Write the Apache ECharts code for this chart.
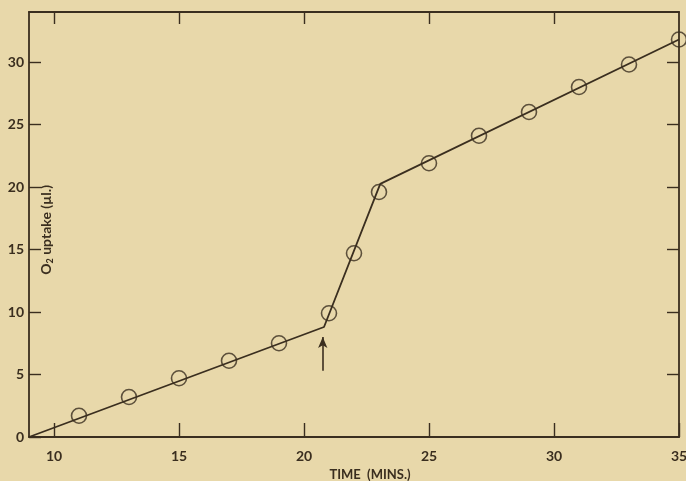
<!DOCTYPE html>
<html><head><meta charset="utf-8">
<script src="https://cdn.jsdelivr.net/npm/echarts@6/dist/echarts.min.js"></script>
<style>html,body{margin:0;padding:0;background:#e8d8aa;}#c{width:686px;height:481px;}</style>
</head><body><div id="c"></div>
<script>
var timeMins = [11,13,15,17,19,21,22,23,25,27,29,31,33,35];
var o2Uptake = [1.7,3.2,4.7,6.1,7.5,9.9,14.7,19.6,21.9,24.1,26.0,28.0,29.8,31.8];
var fitX = [9,20.8,23.05,35];
var fitY = [0,8.8,20.25,31.8];
var arrowX = 20.75, arrowFrom = 5.3, arrowTo = 8.0;
var xTicks = [10,15,20,25,30,35];
var yTicks = [0,5,10,15,20,25,30];

var ink = '#3a2e1f';
var font = 'Lato';
var chart = echarts.init(document.getElementById('c'));
var axisCommon = {
  axisLine:{show:true,onZero:false,lineStyle:{color:ink,width:1.8}},
  splitLine:{show:false}
};
chart.setOption({
  backgroundColor:'#e8d8aa',
  animation:false,
  grid:{left:29,right:7,top:12,bottom:44,containLabel:false,outerBoundsMode:'none'},
  graphic:[{type:'text',left:39,top:185,rotation:Math.PI/2,
    style:{text:'{o|O}{s|2}{o| uptake (µl.)}',
      rich:{o:{fill:ink,fontFamily:font,fontSize:14,fontWeight:'bold'},
            s:{fill:ink,fontFamily:font,fontSize:9,fontWeight:'bold',padding:[8,0,0,0]}}}}],
  xAxis:[
    Object.assign({type:'value',min:9,max:35,position:'bottom',
      axisTick:{inside:true,length:14,customValues:xTicks,lineStyle:{color:ink,width:1.4}},
      axisLabel:{customValues:xTicks,color:ink,fontFamily:font,fontSize:14,fontWeight:'bold',margin:12},
      name:'TIME  (MINS.)',nameLocation:'middle',nameGap:29,
      nameTextStyle:{color:ink,fontFamily:font,fontSize:13,fontWeight:'bold',padding:[0,0,0,32]}
    },axisCommon),
    Object.assign({type:'value',min:9,max:35,position:'top',
      axisTick:{inside:true,length:12,customValues:[10,15,20,25,30],lineStyle:{color:ink,width:1.4}},
      axisLabel:{show:false}
    },axisCommon)
  ],
  yAxis:[
    Object.assign({type:'value',min:0,max:34,position:'left',
      axisTick:{inside:true,length:12,customValues:yTicks,lineStyle:{color:ink,width:1.4}},
      axisLabel:{customValues:yTicks,color:ink,fontFamily:font,fontSize:14,fontWeight:'bold',margin:5}
    },axisCommon),
    Object.assign({type:'value',min:0,max:34,position:'right',
      axisTick:{inside:true,length:12,customValues:[5,10,15,20,25,30],lineStyle:{color:ink,width:1.4}},
      axisLabel:{show:false}
    },axisCommon)
  ],
  series:[
    {type:'line',data:fitX.map(function(x,i){return [x,fitY[i]];}),symbol:'none',
     lineStyle:{color:ink,width:1.8},
     markLine:{silent:true,symbol:['none','arrow'],symbolSize:[7,11],
       lineStyle:{color:ink,width:1.6,type:'solid'},label:{show:false},
       data:[[{coord:[arrowX,arrowFrom]},{coord:[arrowX,arrowTo]}]]}},
    {type:'scatter',data:timeMins.map(function(x,i){return [x,o2Uptake[i]];}),
     symbol:'circle',symbolSize:15,
     itemStyle:{color:'rgba(0,0,0,0)',borderColor:ink,borderWidth:1.6}}
  ]
});
</script></body></html>
